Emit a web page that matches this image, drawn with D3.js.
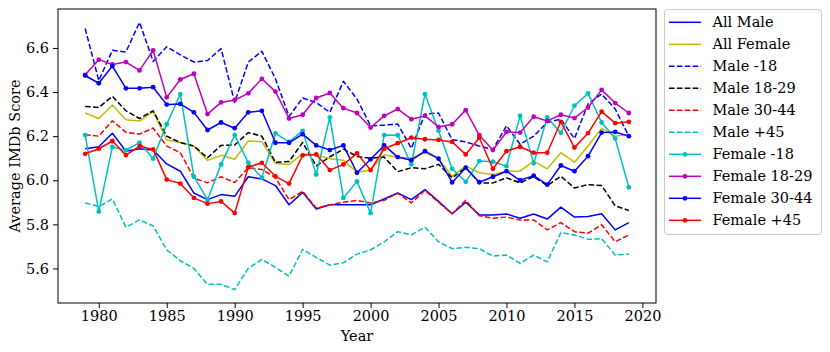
<!DOCTYPE html>
<html>
<head>
<meta charset="utf-8">
<script src="https://cdn.jsdelivr.net/npm/d3@7/dist/d3.min.js"></script>
<style>
  html, body { margin: 0; padding: 0; background: #fff; }
  svg { display: block; }
  text { font-family: "DejaVu Serif", serif; }
</style>
</head>
<body>
<svg id="chart" width="830" height="352"></svg>
<script>
const years = d3.range(1979, 2020);
const xTicks = [1980, 1985, 1990, 1995, 2000, 2005, 2010, 2015, 2020];
const yTicks = [5.6, 5.8, 6.0, 6.2, 6.4, 6.6];

const allMale = [6.143, 6.152, 6.213, 6.132, 6.143, 6.137, 6.074, 6.041, 5.942, 5.912, 5.935, 5.927, 6.016, 6.006, 5.976, 5.889, 5.945, 5.870, 5.889, 5.889, 5.889, 5.889, 5.915, 5.942, 5.912, 5.958, 5.904, 5.848, 5.900, 5.843, 5.843, 5.847, 5.828, 5.847, 5.824, 5.878, 5.833, 5.836, 5.848, 5.775, 5.808];
const allFemale = [6.305, 6.280, 6.341, 6.274, 6.269, 6.311, 6.183, 6.171, 6.155, 6.090, 6.113, 6.095, 6.178, 6.175, 6.076, 6.072, 6.120, 6.115, 6.098, 6.091, 6.036, 6.046, 6.115, 6.104, 6.100, 6.126, 6.098, 6.018, 6.064, 6.034, 6.026, 6.041, 6.041, 6.087, 6.052, 6.125, 6.082, 6.155, 6.235, 6.200, 6.209];
const maleU18 = [6.688, 6.452, 6.589, 6.582, 6.716, 6.539, 6.605, 6.569, 6.536, 6.543, 6.597, 6.353, 6.536, 6.585, 6.460, 6.290, 6.373, 6.352, 6.308, 6.449, 6.368, 6.247, 6.250, 6.255, 6.145, 6.300, 6.305, 6.184, 6.174, 6.155, 6.140, 6.247, 6.163, 6.200, 6.262, 6.277, 6.189, 6.346, 6.391, 6.323, 6.200];
const male18_29 = [6.335, 6.330, 6.381, 6.315, 6.280, 6.315, 6.200, 6.171, 6.155, 6.102, 6.158, 6.160, 6.216, 6.200, 6.081, 6.085, 6.171, 6.065, 6.106, 6.141, 6.108, 6.100, 6.105, 6.039, 6.057, 6.052, 6.072, 6.011, 6.057, 5.988, 5.988, 6.011, 5.988, 6.016, 5.976, 6.018, 5.965, 5.980, 5.976, 5.884, 5.863];
const male30_44 = [6.206, 6.200, 6.270, 6.217, 6.209, 6.237, 6.155, 6.125, 6.010, 5.988, 6.016, 5.990, 6.057, 6.049, 6.011, 5.912, 5.950, 5.874, 5.889, 5.900, 5.909, 5.897, 5.909, 5.942, 5.897, 5.954, 5.900, 5.848, 5.909, 5.839, 5.828, 5.833, 5.820, 5.820, 5.775, 5.808, 5.767, 5.760, 5.798, 5.721, 5.752];
const male45 = [5.897, 5.881, 5.915, 5.787, 5.820, 5.793, 5.684, 5.635, 5.600, 5.528, 5.528, 5.504, 5.600, 5.641, 5.605, 5.565, 5.687, 5.650, 5.615, 5.626, 5.665, 5.684, 5.721, 5.767, 5.752, 5.787, 5.721, 5.690, 5.696, 5.690, 5.656, 5.661, 5.623, 5.661, 5.630, 5.763, 5.752, 5.732, 5.735, 5.661, 5.665];
const femaleU18 = [6.205, 5.858, 6.151, 6.136, 6.171, 6.098, 6.254, 6.391, 6.016, 5.912, 6.072, 6.205, 6.080, 6.011, 6.213, 6.174, 6.224, 6.026, 6.285, 5.920, 5.995, 5.851, 6.205, 6.204, 6.072, 6.391, 6.225, 6.052, 5.993, 6.087, 6.084, 6.064, 6.292, 6.077, 6.285, 6.215, 6.338, 6.394, 6.262, 6.189, 5.968];
const female18_29 = [6.478, 6.547, 6.525, 6.536, 6.498, 6.589, 6.376, 6.457, 6.483, 6.300, 6.353, 6.364, 6.394, 6.460, 6.402, 6.280, 6.297, 6.373, 6.396, 6.327, 6.305, 6.239, 6.292, 6.323, 6.277, 6.292, 6.242, 6.254, 6.318, 6.204, 6.137, 6.219, 6.216, 6.288, 6.269, 6.297, 6.282, 6.330, 6.410, 6.350, 6.305];
const female30_44 = [6.475, 6.440, 6.518, 6.417, 6.417, 6.422, 6.343, 6.346, 6.308, 6.228, 6.262, 6.236, 6.308, 6.315, 6.170, 6.170, 6.209, 6.158, 6.137, 6.158, 6.034, 6.095, 6.158, 6.105, 6.091, 6.132, 6.098, 5.990, 6.057, 5.991, 6.016, 6.041, 6.000, 6.021, 5.980, 6.067, 6.041, 6.109, 6.216, 6.219, 6.200];
const female45 = [6.120, 6.143, 6.178, 6.114, 6.155, 6.140, 6.003, 5.985, 5.920, 5.894, 5.904, 5.851, 6.059, 6.079, 6.018, 5.985, 6.113, 6.117, 6.046, 6.072, 6.122, 6.046, 6.143, 6.168, 6.193, 6.186, 6.183, 6.174, 6.117, 6.193, 6.052, 6.132, 6.152, 6.125, 6.125, 6.265, 6.148, 6.214, 6.311, 6.259, 6.265];

const seriesNames = ["All Male", "All Female", "Male -18", "Male 18-29", "Male 30-44", "Male +45", "Female -18", "Female 18-29", "Female 30-44", "Female +45"];
const seriesValues = [allMale, allFemale, maleU18, male18_29, male30_44, male45, femaleU18, female18_29, female30_44, female45];
const seriesColors = ["#0000ff", "#bfbf00", "#0000ff", "#000000", "#ff0000", "#00bfbf", "#00bfbf", "#bf00bf", "#0000ff", "#ff0000"];
const seriesStyle = ["solid", "solid", "dashed", "dashed", "dashed", "dashed", "dot", "dot", "dot", "dot"];

const svg = d3.select("#chart");
const m = { left: 58, top: 9, right: 656, bottom: 303 };
const fs = "14.5px";

const allVals = seriesValues.flat();
const vmin = d3.min(allVals), vmax = d3.max(allVals);
const pad = (vmax - vmin) * 0.05;
const x = d3.scaleLinear().domain([1977, 2021]).range([m.left, m.right]);
const y = d3.scaleLinear().domain([vmin - pad, vmax + pad]).range([m.bottom, m.top]);

const plot = svg.append("g");
svg.append("defs").append("clipPath").attr("id", "clip")
  .append("rect").attr("x", m.left).attr("y", m.top)
  .attr("width", m.right - m.left).attr("height", m.bottom - m.top);

const line = d3.line().x((d, i) => x(years[i])).y(d => y(d));
const dash = "5.5,2.4";

seriesValues.forEach((vals, k) => {
  const g = plot.append("g").attr("clip-path", "url(#clip)");
  g.append("path").datum(vals)
    .attr("d", line)
    .attr("fill", "none")
    .attr("stroke", seriesColors[k])
    .attr("stroke-width", 1.5)
    .attr("stroke-linejoin", "round")
    .attr("stroke-dasharray", seriesStyle[k] === "dashed" ? dash : null);
  if (seriesStyle[k] === "dot") {
    g.selectAll("circle").data(vals).enter().append("circle")
      .attr("cx", (d, i) => x(years[i]))
      .attr("cy", d => y(d))
      .attr("r", 2.4)
      .attr("fill", seriesColors[k]);
  }
});

// axes
const xAxis = d3.axisBottom(x).tickValues(xTicks).tickSize(5).tickPadding(3).tickFormat(d3.format("d"));
const yAxis = d3.axisLeft(y).tickValues(yTicks).tickSize(5).tickPadding(4).tickFormat(d3.format(".1f"));

const gx = svg.append("g").attr("transform", `translate(0,${m.bottom})`).call(xAxis);
const gy = svg.append("g").attr("transform", `translate(${m.left},0)`).call(yAxis);
[gx, gy].forEach(g => {
  g.select(".domain").remove();
  g.selectAll("line").attr("stroke", "#000").attr("stroke-width", 1);
  g.selectAll("text").attr("fill", "#000").style("font-size", fs).style("font-family", "DejaVu Serif");
});

// frame
svg.append("rect")
  .attr("x", m.left).attr("y", m.top)
  .attr("width", m.right - m.left).attr("height", m.bottom - m.top)
  .attr("fill", "none").attr("stroke", "#000").attr("stroke-width", 1);

// labels
svg.append("text").attr("x", (m.left + m.right) / 2).attr("y", 341)
  .attr("text-anchor", "middle").style("font-size", fs).text("Year");
svg.append("text")
  .attr("transform", `translate(20,${(m.top + m.bottom) / 2}) rotate(-90)`)
  .attr("text-anchor", "middle").style("font-size", fs).text("Average IMDb Score");

// legend
const lg = svg.append("g");
lg.append("rect").attr("x", 664.5).attr("y", 9.5).attr("width", 157).attr("height", 225)
  .attr("rx", 3).attr("fill", "#fff").attr("fill-opacity", 0.8)
  .attr("stroke", "#cccccc").attr("stroke-width", 1);
seriesNames.forEach((name, k) => {
  const yy = 22.3 + k * 22;
  lg.append("line").attr("x1", 669).attr("x2", 701).attr("y1", yy).attr("y2", yy)
    .attr("stroke", seriesColors[k]).attr("stroke-width", 1.5)
    .attr("stroke-dasharray", seriesStyle[k] === "dashed" ? dash : null);
  if (seriesStyle[k] === "dot") {
    lg.append("circle").attr("cx", 685).attr("cy", yy).attr("r", 2.4).attr("fill", seriesColors[k]);
  }
  lg.append("text").attr("x", 712.5).attr("y", yy).attr("dy", "0.35em")
    .style("font-size", fs).text(name);
});
</script>
</body>
</html>
